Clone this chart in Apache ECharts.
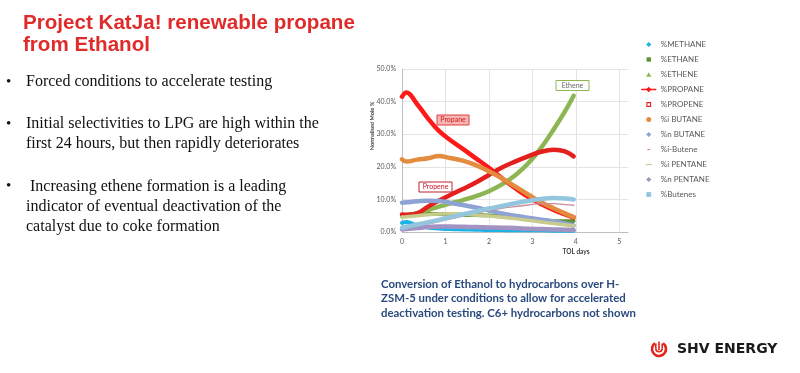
<!DOCTYPE html>
<html>
<head>
<meta charset="utf-8">
<script src="https://cdn.jsdelivr.net/npm/echarts@6/dist/echarts.min.js"></script>
<style>
html,body{margin:0;padding:0;background:#fff;}
#c{width:800px;height:373px;}
</style>
</head>
<body>
<div id="c"></div>
<script>
// ---- data (TOL days vs normalised mole %) ----
var days      = [0, 0.1, 0.35, 0.6, 0.85, 1.1, 1.4, 1.7, 2.0, 2.3, 2.6, 2.9, 3.2, 3.5, 3.75, 3.95];
var methane   = [2.8, 3.1, 2.0, 1.4, 1.1, 0.9, 0.8, 0.7, 0.6, 0.6, 0.5, 0.5, 0.5, 0.4, 0.4, 0.4];
var ethane    = [5.1, 5.2, 5.5, 5.6, 5.5, 5.4, 5.3, 5.2, 5.1, 4.8, 4.5, 4.1, 3.7, 3.3, 3.3, 3.4];
var ethene    = [4.9, 5.1, 5.8, 6.8, 7.8, 8.7, 9.8, 11.0, 12.5, 14.6, 17.3, 21.0, 25.8, 31.7, 37.0, 41.8];
var propane   = [41.5, 42.8, 39.2, 34.8, 31.0, 28.3, 25.5, 22.6, 19.7, 16.5, 13.5, 10.8, 8.6, 6.7, 5.4, 4.5];
var propene   = [5.4, 5.3, 5.7, 7.8, 9.6, 11.3, 13.2, 15.2, 17.5, 19.8, 21.6, 23.2, 24.6, 25.2, 24.7, 23.2];
var iButane   = [22.3, 21.6, 22.2, 22.6, 23.3, 22.7, 21.9, 20.5, 18.6, 16.4, 14.0, 11.5, 9.1, 7.2, 5.7, 4.6];
var nButane   = [9.0, 9.1, 9.4, 9.6, 9.5, 9.0, 8.3, 7.5, 6.6, 5.7, 5.0, 4.4, 3.8, 3.2, 2.6, 2.0];
var iButene   = [1.0, 1.2, 1.8, 2.5, 3.2, 4.0, 4.9, 5.8, 6.6, 7.3, 7.8, 8.3, 8.7, 8.7, 8.4, 8.2];
var iPentane  = [4.6, 4.7, 5.0, 5.3, 5.5, 5.6, 5.5, 5.2, 4.9, 4.5, 4.1, 3.6, 3.1, 2.6, 2.2, 1.9];
var nPentane  = [0.8, 0.9, 1.2, 1.5, 1.7, 1.7, 1.6, 1.5, 1.4, 1.3, 1.2, 1.0, 0.9, 0.8, 0.7, 0.6];
var butenes   = [1.3, 1.6, 2.3, 3.0, 3.7, 4.5, 5.4, 6.3, 7.2, 8.0, 8.8, 9.5, 10.1, 10.4, 10.3, 10.0];

var seriesNames = ['%METHANE','%ETHANE','%ETHENE','%PROPANE','%PROPENE','%i BUTANE','%n BUTANE','%i-Butene','%i PENTANE','%n PENTANE','%Butenes'];
var seriesData  = [methane, ethane, ethene, propane, propene, iButane, nButane, iButene, iPentane, nPentane, butenes];
var yTicks = [0, 10, 20, 30, 40, 50];
var xTicks = [0, 1, 2, 3, 4, 5];

var bulletLines = [
  ['\u2022', 'Forced conditions to accelerate testing'],
  ['\u2022', 'Initial selectivities to LPG are high within the'],
  ['',       'first 24 hours, but then rapidly deteriorates'],
  ['\u2022', ' Increasing ethene formation is a leading'],
  ['',       'indicator of eventual deactivation of the'],
  ['',       'catalyst due to coke formation']
];
var captionLines = [
  'Conversion of Ethanol to hydrocarbons over H-',
  'ZSM-5 under conditions to allow for accelerated',
  'deactivation testing. C6+ hydrocarbons not shown'
];

// ---- styles ----
var colors = ['#1FB1E6','#5F9234','#8DB653','#FF1A1A','#E3201E','#E38B3F','#8EA3D3','#D08A9C','#C8CB8E','#A293C2','#93C6DE'];
var widths = [4, 4, 4.5, 4.5, 4.5, 4.5, 4.5, 1.4, 3.5, 4.5, 4.5];
// icons drawn inside a 14x7 box (corner points keep the box size)
var BOX = 'M0,0L0,0M14,7L14,7';
var legendIcons = [
  {icon:'path://' + BOX + 'M7,1L9.6,3.5L7,6L4.4,3.5Z'},
  {icon:'path://' + BOX + 'M4.8,1.3L9.2,1.3L9.2,5.7L4.8,5.7Z'},
  {icon:'path://' + BOX + 'M7,1.2L9.6,5.8L4.4,5.8Z'},
  {lineStyle:{width:1.5}},
  {icon:'path://' + BOX + 'M4.6,1.1L9.4,1.1L9.4,5.9L4.6,5.9ZM5.7,2.2L5.7,4.8L8.3,4.8L8.3,2.2Z', itemStyle:{color:'#E3201E'}},
  {icon:'path://' + BOX + 'M4.5,3.5A2.5,2.5 0 1 0 9.5,3.5A2.5,2.5 0 1 0 4.5,3.5Z'},
  {icon:'path://' + BOX + 'M7,1L9.6,3.5L7,6L4.4,3.5Z'},
  {icon:'path://' + BOX + 'M5.6,3L8.4,3L8.4,4.1L5.6,4.1Z'},
  {icon:'path://' + BOX + 'M4,3L10,3L10,4.1L4,4.1Z'},
  {icon:'path://' + BOX + 'M7,1L9.6,3.5L7,6L4.4,3.5Z'},
  {icon:'path://' + BOX + 'M4.6,1.1L9.4,1.1L9.4,5.9L4.6,5.9Z'}
];

var series = seriesNames.map(function(n, i){
  return {
    name: n,
    type: 'line',
    smooth: 0.4,
    symbol: i === 3 ? 'diamond' : 'none',
    showSymbol: false,
    symbolSize: 6,
    color: colors[i],
    lineStyle: {width: widths[i], color: colors[i], cap: 'round', join: 'round'},
    data: days.map(function(d, k){ return [d, seriesData[i][k]]; }),
    z: 2 + i,
    silent: true,
    animation: false
  };
});

var legendData = seriesNames.map(function(n, i){
  var o = {name: n};
  for (var k in legendIcons[i]) o[k] = legendIcons[i][k];
  return o;
});

var graphics = [];
// title
var titleFont = 'bold 20.6px "Liberation Sans", Arial, sans-serif';
graphics.push({type:'text', left:23, top:13, style:{text:'Project KatJa! renewable propane', font:titleFont, fill:'#E02B2B'}});
graphics.push({type:'text', left:23, top:35, style:{text:'from Ethanol', font:titleFont, fill:'#E02B2B'}});
// bullets
var bulletY = [82, 124, 144, 186.5, 207, 227];
bulletLines.forEach(function(l, i){
  if (l[0]) graphics.push({type:'text', x:6, y:bulletY[i], style:{text:l[0], font:'15px "Liberation Serif", serif', fill:'#111', verticalAlign:'middle'}});
  graphics.push({type:'text', x:26, y:bulletY[i], style:{text:l[1], font:'16px "Liberation Serif", serif', fill:'#111', verticalAlign:'middle'}});
});
// caption
var capY = [284, 298.5, 313];
captionLines.forEach(function(t, i){
  graphics.push({type:'text', x:381, y:capY[i], style:{text:t, font:'bold 11.4px Lato, sans-serif', fill:'#2A4A7E', verticalAlign:'middle'}});
});
// axis titles
graphics.push({type:'text', x:372, y:126, rotation:Math.PI/2, style:{text:'Normalised Mole %', font:'bold 5.6px Lato, sans-serif', fill:'#404040', align:'center', verticalAlign:'middle'}});
graphics.push({type:'text', x:576, y:252, style:{text:'TOL days', font:'bold 6.5px Lato, sans-serif', fill:'#404040', align:'center', verticalAlign:'middle'}});
// annotation boxes
function box(cx, cy, w, h, fill, stroke, text, tcol){
  graphics.push({type:'rect', shape:{x:cx-w/2, y:cy-h/2, width:w, height:h}, style:{fill:fill, stroke:stroke, lineWidth:1}, z:50});
  graphics.push({type:'text', x:cx, y:cy, style:{text:text, font:'7px Lato, sans-serif', fill:tcol, align:'center', verticalAlign:'middle'}, z:51});
}
box(453, 120, 32, 10, '#F5B5B5', '#E04040', 'Propane', '#D01818');
box(435.5, 187, 33, 10, '#FFFFFF', '#C02030', 'Propene', '#C01828');
box(572.5, 85.5, 33, 10, '#FFFFFF', '#8DB653', 'Ethene', '#666666');
// logo
var lc = '#E2231A';
graphics.push({type:'arc', shape:{cx:659, cy:349, r:7, startAngle:-Math.PI/2+0.62, endAngle:-Math.PI/2-0.62+2*Math.PI, clockwise:true}, style:{stroke:lc, fill:null, lineWidth:2.6}});
graphics.push({type:'arc', shape:{cx:659, cy:348.5, r:3.2, startAngle:0, endAngle:Math.PI, clockwise:true}, style:{stroke:lc, fill:null, lineWidth:1.6}});
graphics.push({type:'line', shape:{x1:655.8, y1:343.5, x2:655.8, y2:348.5}, style:{stroke:lc, lineWidth:1.6}});
graphics.push({type:'line', shape:{x1:662.2, y1:343.5, x2:662.2, y2:348.5}, style:{stroke:lc, lineWidth:1.6}});
graphics.push({type:'line', shape:{x1:659, y1:341.5, x2:659, y2:350}, style:{stroke:lc, lineWidth:1.6}});
graphics.push({type:'text', x:677, y:349, style:{text:'SHV ENERGY', font:'bold 14px "DejaVu Sans", sans-serif', fill:'#1a1a1a', verticalAlign:'middle'}});

var chart = echarts.init(document.getElementById('c'), null, {renderer:'canvas'});
chart.setOption({
  animation: false,
  backgroundColor: '#ffffff',
  grid: {left: 402, top: 69, width: 226, height: 163, containLabel: false},
  xAxis: {
    type: 'value', min: 0, max: 5.2, interval: 1,
    axisLine: {show: true, lineStyle: {color: '#BFBFBF', width: 1}},
    axisTick: {show: false},
    axisLabel: {color: '#595959', fontSize: 7, fontFamily: 'Lato', margin: 6, showMaxLabel: false,
      formatter: function(v){ return xTicks.indexOf(v) >= 0 ? String(v) : ''; }},
    splitLine: {show: true, showMaxLine: false, lineStyle: {color: '#E3E3E3', width: 1}}
  },
  yAxis: {
    type: 'value', min: 0, max: 50, interval: 10,
    axisLine: {show: true, lineStyle: {color: '#BFBFBF', width: 1}},
    axisTick: {show: false},
    axisLabel: {color: '#595959', fontSize: 7, fontFamily: 'Lato', margin: 6,
      formatter: function(v){ return yTicks.indexOf(v) >= 0 ? v.toFixed(1) + '%' : ''; }},
    splitLine: {show: true, lineStyle: {color: '#E3E3E3', width: 1}}
  },
  legend: {
    orient: 'vertical', left: 636, top: 35, padding: 5,
    itemWidth: 14, itemHeight: 7, itemGap: 6,
    selectedMode: false,
    textStyle: {color: '#595959', fontSize: 8, fontFamily: 'Lato', lineHeight: 9},
    data: legendData
  },
  series: series,
  graphic: graphics
});
</script>
</body>
</html>
